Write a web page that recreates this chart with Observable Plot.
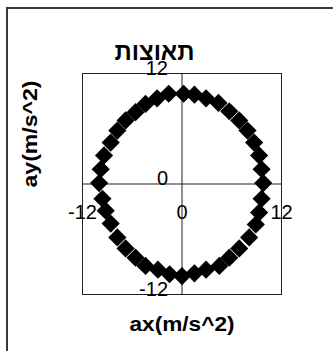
<!DOCTYPE html>
<html>
<head>
<meta charset="utf-8">
<script src="https://cdn.jsdelivr.net/npm/d3@7"></script>
<script src="https://cdn.jsdelivr.net/npm/@observablehq/plot@0.6"></script>
<style>
  html, body { margin: 0; padding: 0; background: #fff; }
  #wrap { position: relative; width: 333px; height: 351px; overflow: hidden; }
  #border { position: absolute; left: 6px; top: 7px; width: 400px; height: 400px;
            border-left: 2px solid #3a3a3a; border-top: 2px solid #3a3a3a; }
  #chart { position: absolute; left: 0; top: 0; }
</style>
</head>
<body>
<div id="wrap"><div id="border"></div><div id="chart"></div></div>
<script>
// Acceleration components of a body moving on a circle (m/s^2)
const ax = [0.2, 1.5, 2.9, 4.4, 5.7, 6.9, 7.9, 8.7, 9.3, 9.6,
            9.8, 9.6, 9.3, 8.9, 8.1, 6.9, 5.7, 4.5, 2.9, 1.5,
            0.0, -1.5, -2.9, -4.4, -5.6, -6.8, -7.8, -8.6, -9.2, -9.6,
            -10.0, -9.8, -9.4, -8.6, -7.8, -6.8, -5.6, -4.4, -3.0, -1.6];
const ay = [9.8, 9.7, 9.3, 8.8, 7.9, 6.9, 5.8, 4.5, 3.1, 1.6,
            0.1, -1.6, -3.1, -4.4, -5.8, -7.0, -8.0, -8.9, -9.3, -9.7,
            -10.0, -9.8, -9.3, -8.9, -8.0, -7.0, -5.8, -4.3, -2.9, -1.6,
            0.1, 1.6, 3.1, 4.5, 5.8, 6.9, 7.8, 8.7, 9.3, 9.8];
const xTicks = [-12, 0, 12];
const yTicks = [-12, 0, 12];
const title = "תאוצות";
const xLabel = "ax(m/s^2)";
const yLabel = "ay(m/s^2)";

const points = ax.map((x, i) => ({ax: x, ay: ay[i]}));
const font = "Liberation Sans, Arial, sans-serif";

const chart = Plot.plot({
  width: 333,
  height: 351,
  marginLeft: 82,
  marginRight: 52,
  marginTop: 73,
  marginBottom: 57,
  style: {background: "transparent", fontFamily: font, color: "#000"},
  x: {domain: [-12, 12], axis: null},
  y: {domain: [-12, 12], axis: null},
  marks: [
    Plot.frame({stroke: "#222", strokeWidth: 1}),
    Plot.ruleX([0], {stroke: "#222", strokeWidth: 1}),
    Plot.ruleY([0], {stroke: "#222", strokeWidth: 1}),
    Plot.dot(points, {x: "ax", y: "ay", symbol: "diamond2", r: 8.2, fill: "#000", stroke: "none"}),
    // tick labels sit along the axes that cross at the origin
    Plot.text(xTicks, {x: d => d, y: 0, text: d => String(d), dy: 28.5,
                       fontSize: 20, fill: "#000", lineAnchor: "middle"}),
    Plot.text(yTicks, {x: 0, y: d => d, text: d => String(d), dx: -14, dy: -5,
                       textAnchor: "end", fontSize: 20, fill: "#000", lineAnchor: "middle"}),
    Plot.text([title], {frameAnchor: "top", dx: -27.5, dy: -21, text: d => d,
                        fontSize: 24, fontWeight: "bold", fill: "#000", lineAnchor: "middle"}),
    Plot.text([xLabel], {frameAnchor: "bottom", dy: 30, text: d => d,
                         fontSize: 20, fontWeight: "bold", fill: "#000", lineAnchor: "middle"}),
    Plot.text([yLabel], {frameAnchor: "left", dx: -52, dy: 3.5, rotate: -90, text: d => d,
                         fontSize: 20, fontWeight: "bold", fill: "#000", lineAnchor: "middle"})
  ]
});

// widen the axis titles to their drawn length
d3.select(chart).selectAll("text")
  .filter(function () { return this.textContent === xLabel || this.textContent === yLabel; })
  .attr("textLength", function () { return this.textContent === xLabel ? 105 : 107; })
  .attr("lengthAdjust", "spacingAndGlyphs");

document.getElementById("chart").appendChild(chart);
</script>
</body>
</html>
